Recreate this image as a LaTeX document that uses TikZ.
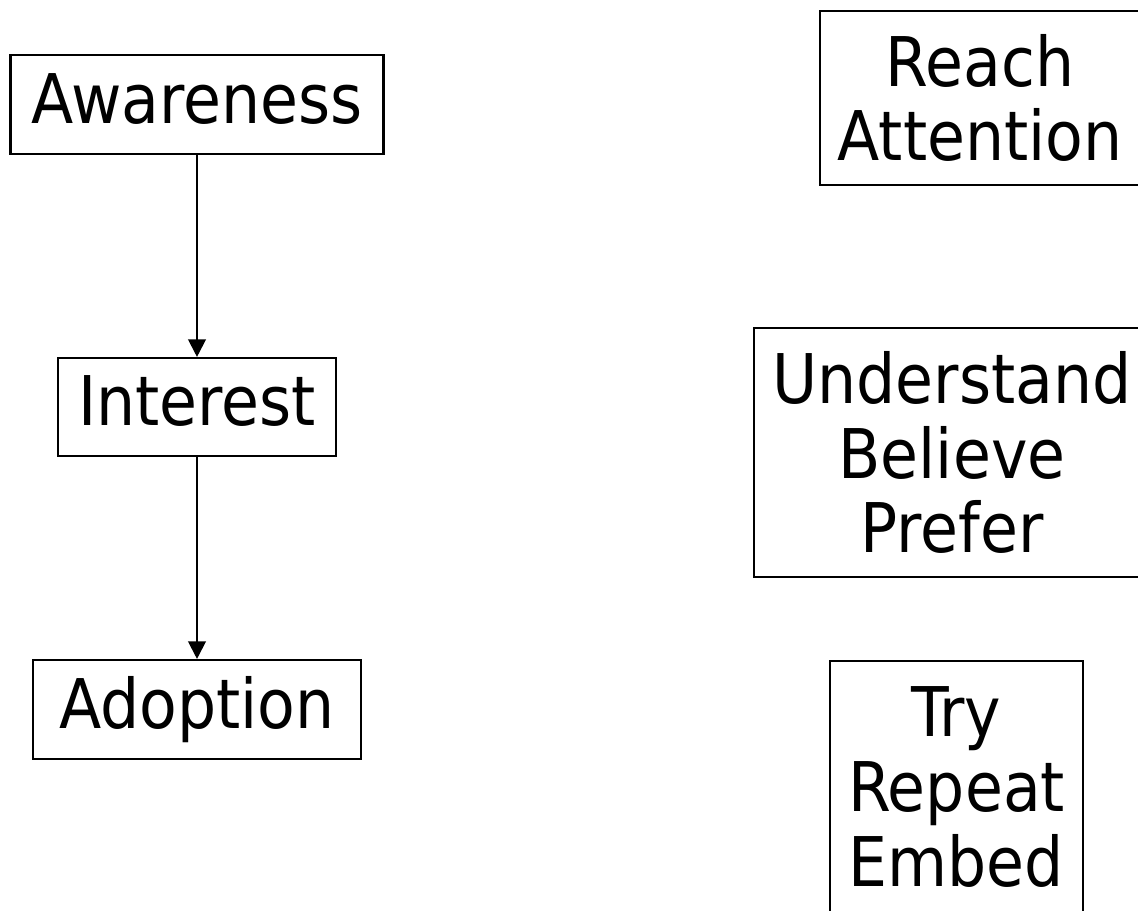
\documentclass[tikz,border=0pt]{standalone}
\usepackage{fontspec}
\setmainfont{DejaVu Sans Condensed}
\usetikzlibrary{arrows.meta}
\tikzset{
  stage/.style={rectangle, draw, line width=1.2pt, inner sep=0pt, align=center,
    font=\fontsize{39}{42.5}\selectfont},
  single/.style={stage, text height=28.5pt, text depth=7pt},
  flow/.style={-{Triangle[width=10pt,length=10pt]}, line width=1.2pt}
}
\begin{document}
\begin{tikzpicture}[x=0.02cm,y=-0.02cm]
  \useasboundingbox (0,0) rectangle (1138,911);
  % left column
  \node[single, minimum width=7.46cm, minimum height=1.98cm] (aware) at (197,104.5) {Awareness};
  \node[single, minimum width=5.56cm, minimum height=1.96cm] (interest) at (197,407) {Interest};
  \node[single, minimum width=6.56cm, minimum height=1.98cm] (adopt) at (197,709.5) {Adoption};

  % right column
  \node[stage, minimum width=6.4cm, minimum height=3.48cm] (reach) at (980,98) {Reach\\Attention};
  \node[stage, minimum width=7.92cm, minimum height=4.98cm] (understand) at (952,452.5) {Understand\\Believe\\Prefer};
  \node[stage, minimum width=5.06cm, minimum height=5.04cm] (try) at (956.5,787) {Try\\Repeat\\Embed};

  \draw[flow] (aware)--(interest);
  \draw[flow] (interest)--(adopt);
\end{tikzpicture}
\end{document}
